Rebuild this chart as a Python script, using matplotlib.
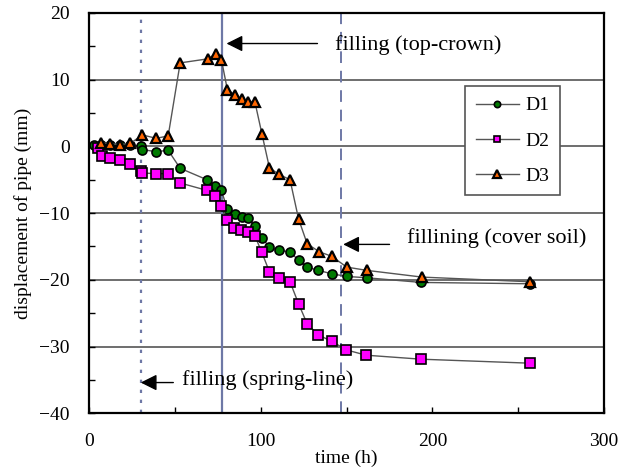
import matplotlib
matplotlib.use("Agg")
import matplotlib.pyplot as plt
from matplotlib.ticker import MultipleLocator

plt.rcParams['font.family'] = ['Liberation Serif', 'DejaVu Serif']
plt.rcParams['font.size'] = 14

# readings
t1 = [3, 7, 12, 18, 24, 30, 31, 39, 46, 53, 68.5, 73.5, 77, 80.5, 85, 89, 92.5, 96.5,
      100.6, 105, 110.5, 117, 122, 127, 133.6, 141.3, 150, 161.7, 193.5, 257]
d1 = [0.15, 0.2, 0.2, 0.15, 0.2, 0.05, -0.5, -0.8, -0.6, -3.3, -5.0, -5.9, -6.6, -9.4,
      -10.2, -10.6, -10.8, -11.9, -13.7, -15.1, -15.6, -15.8, -17.1, -18.1, -18.6,
      -19.1, -19.5, -19.7, -20.4, -20.6]

t2 = [5, 7.4, 12, 18, 24, 30, 31, 39, 46, 53, 68.5, 73.5, 77, 80.5, 84.6, 88.5, 92.5,
      96.5, 100.6, 105, 110.5, 117, 122, 127, 133.6, 141.3, 149.7, 161.3, 193.4, 257]
d2 = [-0.2, -1.4, -1.8, -2.1, -2.6, -3.7, -4.0, -4.1, -4.1, -5.5, -6.6, -7.4, -8.9,
      -11.1, -12.2, -12.6, -12.9, -13.4, -15.9, -18.8, -19.7, -20.3, -23.6, -26.6,
      -28.3, -29.2, -30.5, -31.3, -31.9, -32.5]

t3 = [7, 12, 18, 24, 31, 39, 46, 53, 69, 74, 77, 80.5, 85, 89, 92.5, 96.5, 100.6, 105,
      110.5, 117, 122, 127, 134, 141.5, 150, 162, 194, 257]
d3 = [0.55, 0.4, 0.25, 0.45, 1.7, 1.2, 1.55, 12.5, 13.1, 13.9, 13.0, 8.5, 7.7, 7.1, 6.7,
      6.7, 1.9, -3.2, -4.2, -5.0, -10.9, -14.6, -15.8, -16.5, -18.1, -18.6, -19.6, -20.3]

# filling stages (h)
t_spring = 30
t_crown = 77.2
t_cover = 146.5

fig = plt.figure(figsize=(6.24, 4.75), dpi=100)
ax = fig.add_axes([0.143, 0.13, 0.825, 0.843])

lc = '#6e78a6'
ax.axvline(t_spring, color=lc, ls=(0, (1.5, 3)), lw=1.6, zorder=1)
ax.axvline(t_crown, color=lc, ls='-', lw=1.6, zorder=1)
ax.axvline(t_cover, color=lc, ls=(0, (6, 4)), lw=1.4, zorder=1)

ax.plot(t1, d1, color='#555555', lw=1, marker='o', ms=6.5, mfc='#007a00', mec='black',
        mew=1.2, label='D1', zorder=3)
ax.plot(t2, d2, color='#555555', lw=1, marker='s', ms=6.5, mfc='#ff00ff', mec='black',
        mew=1.2, label='D2', zorder=3)
ax.plot(t3, d3, color='#555555', lw=1, marker='^', ms=7.5, mfc='#ff6600', mec='black',
        mew=1.6, label='D3', zorder=4)

ax.set_xlim(0, 300)
ax.set_ylim(-40, 20)
ax.xaxis.set_major_locator(MultipleLocator(100))
ax.xaxis.set_minor_locator(MultipleLocator(50))
ax.yaxis.set_major_locator(MultipleLocator(10))
ax.yaxis.set_minor_locator(MultipleLocator(5))
ax.tick_params(which='both', direction='in', length=4, width=1)
ax.tick_params(axis='x', which='major', pad=14)
ax.tick_params(axis='y', which='major', pad=14)
ax.grid(axis='y', which='major', color='#555555', lw=1.2)
ax.set_axisbelow(True)
for s in ax.spines.values():
    s.set_linewidth(1.6)

ax.set_xlabel("time (h)", labelpad=0)
ax.set_ylabel("displacement of pipe (mm)", labelpad=5)

arrow = dict(arrowstyle='-|>,head_length=0.7,head_width=0.35', color='black', lw=1,
             shrinkA=0, shrinkB=0)
ax.annotate("", xy=(80, 15.4), xytext=(133, 15.4), arrowprops=arrow)
ax.text(143.5, 15.1, "filling (top-crown)", va='center', ha='left', fontsize=16)
ax.annotate("", xy=(148, -14.7), xytext=(175, -14.7), arrowprops=arrow)
ax.text(185.3, -13.8, "fillining (cover soil)", va='center', ha='left', fontsize=16)
ax.annotate("", xy=(30, -35.4), xytext=(49, -35.4), arrowprops=arrow)
ax.text(53.8, -35.0, "filling (spring-line)", va='center', ha='left', fontsize=16)

leg = ax.legend(loc='upper left', bbox_to_anchor=(0.73, 0.817), borderaxespad=0,
                frameon=True, fancybox=False, edgecolor='#555555', framealpha=1,
                borderpad=0.55, labelspacing=0.9, handlelength=2.2,
                handletextpad=0.35, markerscale=0.7)
leg.get_frame().set_linewidth(1.2)

fig.savefig("out.png", dpi=100)
